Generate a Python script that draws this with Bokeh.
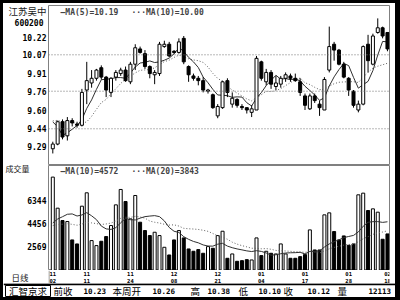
import numpy as np
from bokeh.plotting import figure
from bokeh.layouts import column, row
from bokeh.models import Range1d, FixedTicker, PrintfTickFormatter, Span, Label
from bokeh.embed import file_html
from bokeh.resources import INLINE
from bokeh.core.properties import value

# ---------------- data ----------------
stock_name = "江苏吴中"
stock_code = "600200"

opens = [9.27, 9.31, 9.50, 9.38, 9.51, 9.48, 9.47, 9.77, 9.83, 9.87,
         9.96, 9.88, 9.75, 9.88, 9.91, 9.94, 9.84, 9.99, 10.12, 10.08,
         9.97, 9.90, 9.91, 10.14, 10.16, 10.10, 10.09, 10.21, 9.97, 9.89,
         9.87, 9.85, 9.76, 9.73, 9.55, 9.62, 9.85, 9.65, 9.69, 9.63,
         9.62, 9.58, 9.60, 10.01, 9.84, 9.92, 9.80, 9.82, 9.87, 9.89,
         9.87, 9.84, 9.72, 9.61, 9.72, 9.65, 9.60, 9.94, 10.16, 10.11,
         9.99, 9.87, 9.76, 9.60, 9.65, 10.16, 9.99, 10.26, 10.30, 10.26]
highs = [9.33, 9.51, 9.52, 9.54, 9.53, 9.50, 9.78, 10.01, 9.94, 9.95,
         9.98, 9.89, 9.88, 9.94, 9.96, 9.97, 10.01, 10.16, 10.14, 10.11,
         9.98, 9.94, 10.18, 10.19, 10.18, 10.11, 10.21, 10.23, 9.98, 9.91,
         9.89, 9.88, 9.78, 9.74, 9.65, 9.85, 9.87, 9.75, 9.70, 9.65,
         9.62, 9.64, 10.06, 10.02, 9.95, 9.94, 9.89, 9.89, 9.92, 9.91,
         9.91, 9.87, 9.74, 9.74, 9.74, 9.68, 9.88, 10.31, 10.18, 10.12,
         10.01, 9.88, 9.77, 9.68, 10.15, 10.24, 10.25, 10.38, 10.31, 10.26]
lows = [9.23, 9.30, 9.35, 9.34, 9.46, 9.45, 9.46, 9.65, 9.79, 9.85,
        9.86, 9.71, 9.71, 9.85, 9.89, 9.84, 9.82, 9.94, 10.08, 9.95,
        9.87, 9.82, 9.89, 10.13, 10.05, 10.08, 10.08, 9.99, 9.84, 9.85,
        9.81, 9.75, 9.74, 9.61, 9.53, 9.61, 9.71, 9.62, 9.62, 9.60,
        9.57, 9.54, 9.60, 9.85, 9.81, 9.78, 9.77, 9.79, 9.84, 9.84,
        9.84, 9.72, 9.60, 9.60, 9.66, 9.55, 9.60, 9.92, 10.02, 9.98,
        9.87, 9.72, 9.62, 9.58, 9.64, 9.92, 9.98, 10.25, 10.21, 10.10]
closes = [9.31, 9.50, 9.37, 9.51, 9.49, 9.47, 9.75, 9.85, 9.87, 9.94,
          9.88, 9.77, 9.87, 9.92, 9.94, 9.85, 9.99, 10.13, 10.09, 9.97,
          9.91, 9.92, 10.16, 10.16, 10.06, 10.09, 10.18, 10.01, 9.90, 9.87,
          9.85, 9.77, 9.77, 9.62, 9.63, 9.84, 9.75, 9.70, 9.64, 9.62,
          9.60, 9.61, 10.04, 9.87, 9.92, 9.82, 9.83, 9.87, 9.90, 9.87,
          9.85, 9.75, 9.64, 9.72, 9.68, 9.62, 9.86, 10.14, 10.11, 9.99,
          9.88, 9.77, 9.64, 9.65, 10.14, 10.02, 10.23, 10.30, 10.23, 10.12]
volumes = [8272, 5711, 4693, 4610, 3096, 2765, 5876, 6978, 3041, 2628,
           2986, 3371, 4280, 5986, 7253, 6262, 4830, 6757, 4555, 3867,
           3454, 3729, 3454, 2490, 1857, 3096, 3867, 3261, 2352, 2160,
           2298, 1995, 2545, 2408, 3454, 3812, 1582, 1940, 1334, 1389,
           1472, 1444, 3261, 1802, 2160, 1995, 1940, 2766, 1940, 1582,
           1582, 1719, 1885, 3922, 2270, 2270, 5161, 5326, 3784, 3096,
           3426, 2655, 2766, 6812, 6950, 5518, 5656, 5381, 3151, 3591]
# closes / volumes of the days just before the window (feed the moving averages)
prior_closes = [9.45, 9.50, 9.48, 9.55, 9.60, 9.70, 9.74, 9.40, 9.34]
prior_volumes = [4000, 4200, 3800, 4100, 4300, 3900, 4000, 4100, 3828, 4400,
                 2500, 2800, 2600, 2800, 4500, 5000, 5100, 5600, 5800]

date_tick_idx = [0, 7, 16, 25, 34, 43, 52, 61, 69]
date_months = ["11", "11", "11", "12", "12", "01", "01", "01", "02"]
date_days = ["02", "11", "24", "08", "21", "04", "17", "28", "18"]
price_ticks = [9.29, 9.44, 9.60, 9.76, 9.91, 10.07, 10.22]
price_grid = [9.44, 9.76, 10.07]
vol_ticks = [2569, 4456, 6344]
price_legend = ["—MA(5)=10.19", "···MA(10)=10.00"]
vol_legend = ["—MA(10)=4572", "···MA(20)=3843"]
vol_title = "成交量"
period_title = "日线"
info_names = ["前收", "本周开", "高", "低", "收", "量"]
info_values = ["10.23", "10.26", "10.38", "10.10", "10.12", "12113"]
brand = "汇智京求"

# ---------------- derived ----------------
N = len(closes)
idx = list(range(N))
all_c = prior_closes + closes
all_v = prior_volumes + volumes
pc, pvn = len(prior_closes), len(prior_volumes)


def ma(series, offset, n):
    return [float(np.mean(series[k + offset - n + 1:k + offset + 1])) for k in range(N)]


ma5 = ma(all_c, pc, 5)
ma10 = ma(all_c, pc, 10)
vma10 = ma(all_v, pvn, 10)
vma20 = ma(all_v, pvn, 20)

up = [c > o for o, c in zip(opens, closes)]
body_top = [max(o, c) for o, c in zip(opens, closes)]
body_bot = [min(o, c) for o, c in zip(opens, closes)]
fills = ["white" if u else "black" for u in up]

MONO = "DejaVu Sans Mono"
CJK = "Noto Sans CJK SC"
FRAME = "#808080"
GW = 45            # left gutter width
MW = 347           # main column width
RB = 6             # right border inside main column
XR = Range1d(-0.887, 69.42)

# price scale: 10.07 at y=54.3, 0.008514 per pixel (image coords)
PPX = 0.008514
def price_at(y):
    return 10.07 - (y - 54.3) * PPX
VPX = 82.4
def vol_at(y):
    return 6344 + (200 - y) * VPX

VOL_BOTTOM_Y = 270


def blank(width, height, xr, yr):
    f = figure(width=width, height=height, x_range=xr, y_range=yr, output_backend="svg",
               toolbar_location=None, x_axis_type=None, y_axis_type=None,
               min_border_left=0, min_border_right=0, min_border_top=0, min_border_bottom=0)
    f.grid.visible = False
    f.outline_line_color = None
    return f


def axis_fig(height, y_top, y_bot, ticks, fmt=None, overrides=None, font=MONO, bold=True,
             size="8px", standoff=2, color="black"):
    f = figure(width=GW, height=height, x_range=Range1d(0, 1), y_range=Range1d(y_bot, y_top),
               output_backend="svg", toolbar_location=None, x_axis_type=None,
               min_border_left=GW - 1, min_border_right=0, min_border_top=0, min_border_bottom=0)
    f.grid.visible = False
    f.outline_line_color = None
    ax = f.yaxis[0]
    ax.ticker = FixedTicker(ticks=ticks)
    if fmt:
        ax.formatter = PrintfTickFormatter(format=fmt)
    if overrides:
        ax.major_label_overrides = overrides
    ax.axis_line_color = None
    ax.major_tick_line_color = None
    ax.minor_tick_line_color = None
    ax.major_tick_out = 0
    ax.major_tick_in = 0
    ax.major_label_standoff = standoff
    ax.major_label_text_font = font
    ax.major_label_text_font_style = "bold" if bold else "normal"
    ax.major_label_text_font_size = size
    ax.major_label_text_color = color
    return f


# ---------------- left gutter (labels via axes so they align) ----------------
g_t1 = axis_fig(14, 14, 0, [7], overrides={7: stock_name}, font=CJK, bold=False,
                size="9.5px", standoff=2, color="#202020")
g_t2 = axis_fig(14, 14, 0, [9], overrides={9: stock_code}, size="8px", standoff=5)
g_paxis = axis_fig(127, price_at(31), price_at(158), price_ticks, fmt="%.2f")
g_vtitle = axis_fig(20, 20, 0, [10.5], overrides={10.5: vol_title}, font=CJK, bold=False,
                    size="8px", standoff=19, color="#202020")
g_vaxis = axis_fig(VOL_BOTTOM_Y - 178, vol_at(178), vol_at(VOL_BOTTOM_Y), vol_ticks, fmt="%d")
g_day = axis_fig(13, 13, 0, [6.5], overrides={6.5: period_title}, font=CJK, bold=False,
                 size="8.5px", standoff=20, color="#202020")

gutter = column(g_t1, g_t2, g_paxis, g_vtitle, g_vaxis, g_day, spacing=0)

# ---------------- price panel ----------------
p = figure(width=MW, height=162, x_range=XR, y_range=Range1d(price_at(165), price_at(5)),
           output_backend="svg", toolbar_location=None, x_axis_type=None, y_axis_type=None,
           min_border_left=0, min_border_right=RB, min_border_top=2, min_border_bottom=0)
p.grid.visible = False
p.outline_line_color = FRAME

for g in price_grid:
    p.add_layout(Span(location=g, dimension="width", line_color="#707070",
                      line_dash="1 2", line_width=1))

p.line(idx, ma10, line_color="#606060", line_width=1, line_dash="1 2")
p.line(idx, ma5, line_color="#303030", line_width=1)
p.segment(x0=idx, y0=lows, x1=idx, y1=highs, line_color="black", line_width=1)
p.vbar(x=idx, width=0.62, top=body_top, bottom=body_bot, fill_color=fills,
       line_color="black", line_width=1)

for sx, txt in zip([12, 83], price_legend):
    p.add_layout(Label(x=sx, y=153, x_units="screen", y_units="screen", text=txt,
                       text_font=MONO, text_font_style="bold", text_font_size="8px",
                       text_baseline="middle"))

# ---------------- volume panel ----------------
pv = figure(width=MW, height=VOL_BOTTOM_Y - 165, x_range=XR,
            y_range=Range1d(vol_at(VOL_BOTTOM_Y), vol_at(165)),
            output_backend="svg", toolbar_location=None, x_axis_type=None, y_axis_type=None,
            min_border_left=0, min_border_right=RB, min_border_top=0, min_border_bottom=0)
pv.grid.visible = False
pv.outline_line_color = FRAME

pv.vbar(x=idx, width=0.62, top=volumes, bottom=vol_at(VOL_BOTTOM_Y), fill_color=fills,
        line_color="black", line_width=1)
pv.line(idx, vma20, line_color="#606060", line_width=1, line_dash="1 2")
pv.line(idx, vma10, line_color="#303030", line_width=1)

for sx, txt in zip([12, 83], vol_legend):
    pv.add_layout(Label(x=sx, y=99, x_units="screen", y_units="screen", text=txt,
                        text_font=MONO, text_font_style="bold", text_font_size="8px",
                        text_baseline="middle"))

# ---------------- date strip ----------------
pd_ = figure(width=MW, height=13, x_range=XR, y_range=Range1d(0, 13),
             output_backend="svg", toolbar_location=None, x_axis_type=None, y_axis_type=None,
             min_border_left=0, min_border_right=RB, min_border_top=0, min_border_bottom=0)
pd_.grid.visible = False
pd_.outline_line_color = None
pd_.add_layout(Span(location=XR.start + 0.1, dimension="height", line_color=FRAME, line_width=1))
pd_.text(x=date_tick_idx, y=[9.7] * len(date_tick_idx), text=date_months, text_font=value(MONO),
         text_font_style="bold", text_font_size=value("5.5px"), text_align="center",
         text_baseline="middle")
pd_.text(x=date_tick_idx, y=[3.3] * len(date_tick_idx), text=date_days, text_font=value(MONO),
         text_font_style="bold", text_font_size=value("5.5px"), text_align="center",
         text_baseline="middle")

main = column(p, pv, pd_, spacing=0)

# ---------------- info bar ----------------
W = GW + MW
pi = blank(W, 14, Range1d(0, W), Range1d(0, 14))
pi.add_layout(Span(location=13.2, dimension="width", line_color="black", line_width=2))
pi.rect(x=[24.5], y=[6.5], width=45, height=11, fill_color=None, line_color="black")
pi.text(x=[24.5], y=[6.8], text=[brand], text_font=value(CJK), text_font_size=value("9.5px"),
        text_align="center", text_baseline="middle")
name_x = [50, 109, 187, 235, 280, 334]
val_x = [80, 149, 204, 255, 304, 365]
pi.text(x=name_x, y=[6.8] * 6, text=info_names, text_font=value(CJK),
        text_font_size=value("9.5px"), text_baseline="middle")
pi.text(x=val_x, y=[6.5] * 6, text=info_values, text_font=value(MONO),
        text_font_style="bold", text_font_size=value("7.5px"), text_baseline="middle")

layout = column(row(gutter, main, spacing=0), pi, spacing=0,
                styles={"border-left": "3px solid black", "border-top": "3px solid black",
                        "border-right": "5px solid black", "border-bottom": "3px solid black"})

open("out.html", "w").write(file_html(layout, INLINE))
